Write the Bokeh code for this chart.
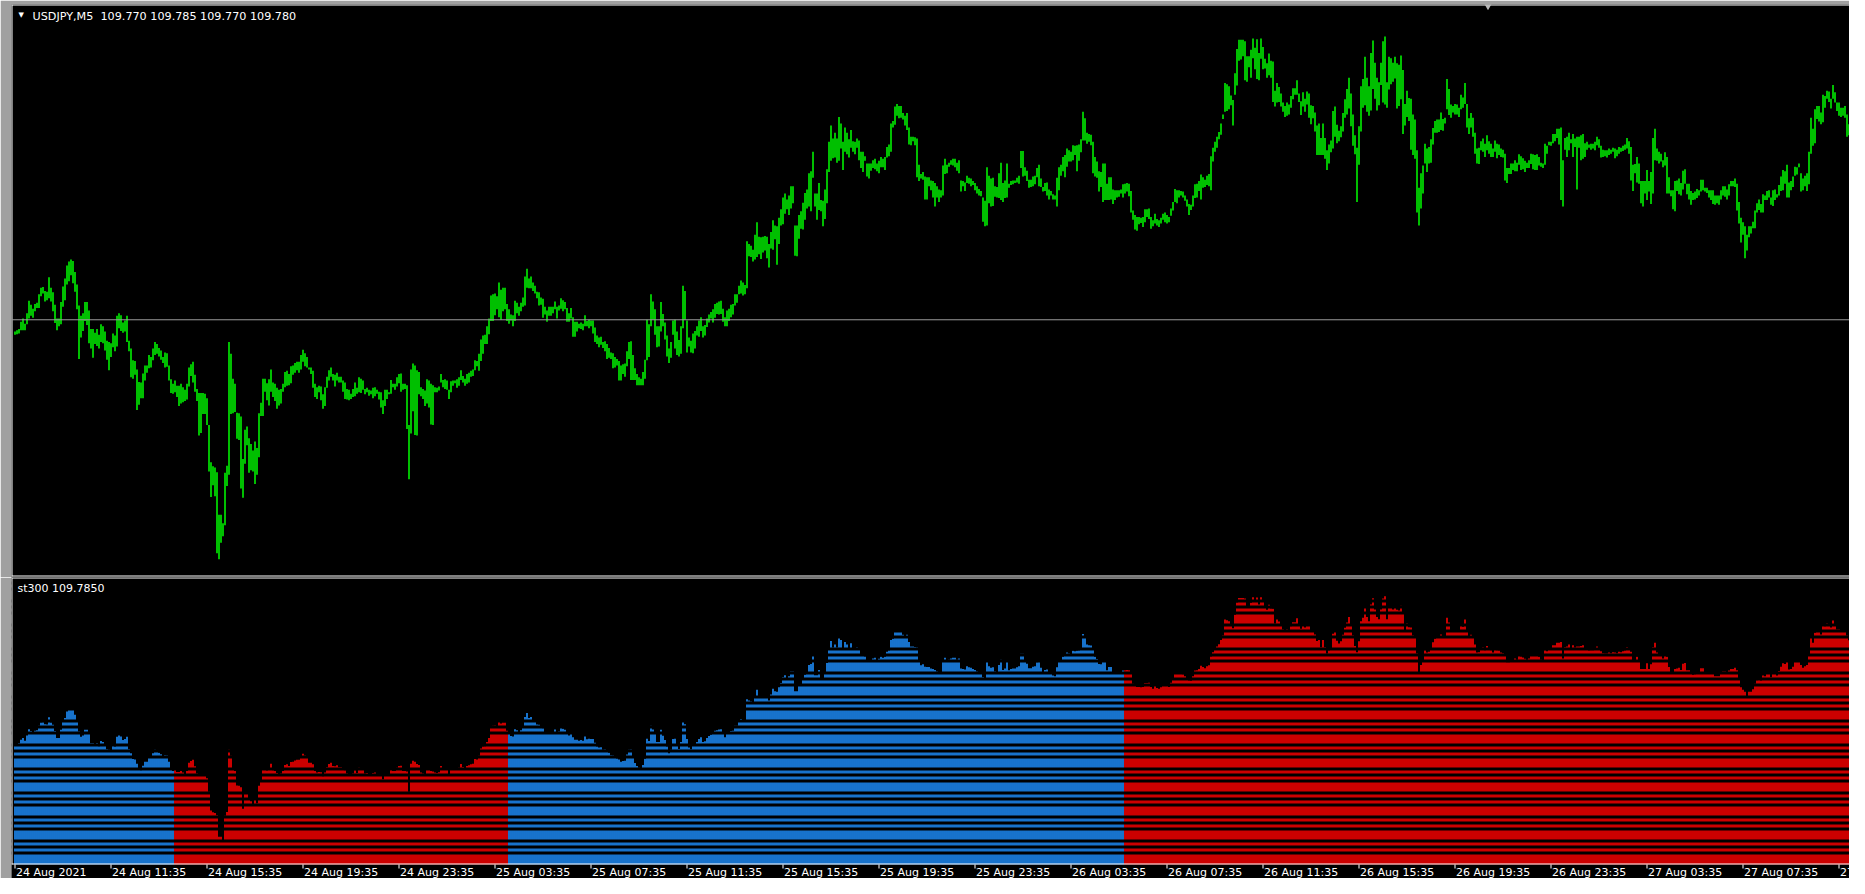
from bokeh.plotting import figure
from bokeh.layouts import column
from bokeh.models import Range1d, Label, Span, ColumnDataSource
from bokeh.core.properties import value
from bokeh.embed import file_html
from bokeh.resources import INLINE

# ---------------- data ----------------
symbol = "USDJPY,M5"
last_ohlc = ["109.770", "109.785", "109.770", "109.780"]
indicator_name = "st300"
indicator_last = "109.7850"
bid_line = 109.912

tick_every = 48  # bars between time labels (4 hours of M5)
tick_labels = ["24 Aug 2021", "24 Aug 11:35", "24 Aug 15:35", "24 Aug 19:35", "24 Aug 23:35",
               "25 Aug 03:35", "25 Aug 07:35", "25 Aug 11:35", "25 Aug 15:35", "25 Aug 19:35",
               "25 Aug 23:35", "26 Aug 03:35", "26 Aug 07:35", "26 Aug 11:35", "26 Aug 15:35",
               "26 Aug 19:35", "26 Aug 23:35", "27 Aug 03:35", "27 Aug 07:35", "27 Aug 11:35"]

high = [
109.894, 109.896, 109.898, 109.909, 109.914, 109.906, 109.922, 109.941, 109.935, 109.929,
109.936, 109.938, 109.951, 109.961, 109.962, 109.956, 109.955, 109.977, 109.961, 109.954,
109.935, 109.914, 109.914, 109.939, 109.963, 109.975, 109.995, 110.001, 110.004, 110.002,
109.985, 109.966, 109.934, 109.918, 109.922, 109.939, 109.939, 109.926, 109.898, 109.898,
109.892, 109.898, 109.889, 109.905, 109.902, 109.894, 109.880, 109.878, 109.876, 109.891,
109.888, 109.918, 109.922, 109.919, 109.908, 109.911, 109.918, 109.880, 109.868, 109.850,
109.849, 109.836, 109.817, 109.816, 109.830, 109.842, 109.842, 109.858, 109.855, 109.868,
109.878, 109.875, 109.869, 109.865, 109.855, 109.862, 109.861, 109.842, 109.821, 109.814,
109.819, 109.811, 109.811, 109.814, 109.809, 109.805, 109.814, 109.839, 109.844, 109.848,
109.828, 109.806, 109.800, 109.800, 109.800, 109.799, 109.792, 109.751, 109.694, 109.688,
109.686, 109.679, 109.614, 109.614, 109.601, 109.678, 109.689, 109.878, 109.860, 109.822,
109.814, 109.770, 109.769, 109.764, 109.699, 109.744, 109.749, 109.731, 109.722, 109.712,
109.726, 109.716, 109.769, 109.785, 109.822, 109.822, 109.815, 109.821, 109.836, 109.816,
109.814, 109.808, 109.805, 109.806, 109.814, 109.832, 109.834, 109.829, 109.841, 109.842,
109.846, 109.848, 109.848, 109.858, 109.866, 109.861, 109.855, 109.839, 109.839, 109.834,
109.814, 109.809, 109.811, 109.810, 109.798, 109.809, 109.825, 109.835, 109.839, 109.829,
109.828, 109.831, 109.825, 109.825, 109.819, 109.816, 109.806, 109.805, 109.799, 109.806,
109.816, 109.808, 109.824, 109.822, 109.819, 109.806, 109.808, 109.805, 109.804,
109.808, 109.809, 109.805, 109.802, 109.801, 109.789, 109.805, 109.805, 109.801, 109.820,
109.814, 109.814, 109.824, 109.829, 109.830, 109.814, 109.814, 109.812, 109.751, 109.836,
109.845, 109.842, 109.835, 109.832, 109.809, 109.806, 109.804, 109.821, 109.819, 109.814,
109.812, 109.809, 109.808, 109.810, 109.829, 109.820, 109.821, 109.819, 109.805, 109.818,
109.819, 109.819, 109.821, 109.824, 109.835, 109.826, 109.822, 109.829, 109.831, 109.834,
109.836, 109.850, 109.849, 109.860, 109.882, 109.888, 109.889, 109.902, 109.914, 109.949,
109.951, 109.952, 109.948, 109.969, 109.958, 109.961, 109.961, 109.936, 109.928, 109.920,
109.919, 109.941, 109.938, 109.932, 109.938, 109.946, 109.978, 109.990, 109.975, 109.978,
109.969, 109.964, 109.955, 109.954, 109.946, 109.944, 109.932, 109.926, 109.932, 109.932,
109.932, 109.940, 109.932, 109.934, 109.945, 109.942, 109.939, 109.930, 109.922, 109.930,
109.916, 109.909, 109.909, 109.906, 109.908, 109.906, 109.919, 109.910, 109.912, 109.911,
109.911, 109.900, 109.888, 109.885, 109.886, 109.878, 109.879, 109.875, 109.869, 109.862,
109.861, 109.855, 109.852, 109.849, 109.842, 109.844, 109.845, 109.864, 109.878, 109.879, 109.858, 109.838,
109.829, 109.824, 109.822, 109.832, 109.851, 109.912, 109.905, 109.951, 109.940, 109.928,
109.902, 109.902, 109.939, 109.921, 109.908, 109.888, 109.868, 109.878, 109.911, 109.912,
109.894, 109.881, 109.902, 109.964, 109.956, 109.911, 109.885, 109.880, 109.891, 109.895,
109.902, 109.911, 109.916, 109.902, 109.904, 109.914, 109.920, 109.924, 109.928, 109.936,
109.938, 109.940, 109.941, 109.929, 109.916, 109.926, 109.929, 109.935, 109.936, 109.951,
109.951, 109.964, 109.972, 109.969, 109.965, 110.032, 110.028, 110.025, 110.019, 110.042,
110.061, 110.039, 110.038, 110.039, 110.040, 110.039, 110.028, 110.046, 110.064, 110.056,
110.055, 110.068, 110.081, 110.099, 110.105, 110.096, 110.102, 110.116, 110.116, 110.056,
110.056, 110.072, 110.078, 110.091, 110.106, 110.111, 110.136, 110.139, 110.169, 110.105,
110.105, 110.121, 110.095, 110.094, 110.111, 110.142, 110.184, 110.209, 110.189, 110.198,
110.189, 110.222, 110.212, 110.184, 110.206, 110.198, 110.188, 110.202, 110.185, 110.184,
110.189, 110.186, 110.169, 110.169, 110.162, 110.151, 110.151, 110.151, 110.156, 110.158,
110.151, 110.155, 110.161, 110.158, 110.161, 110.176, 110.180, 110.212, 110.216, 110.238,
110.242, 110.239, 110.239, 110.228, 110.224, 110.228, 110.206, 110.192, 110.192, 110.191,
110.189, 110.149, 110.135, 110.138, 110.131, 110.130, 110.130, 110.125, 110.124, 110.121,
110.116, 110.111, 110.110, 110.148, 110.158, 110.149, 110.152, 110.156, 110.158, 110.158,
110.152, 110.156, 110.125, 110.124, 110.122, 110.132, 110.129, 110.128, 110.124,
110.121, 110.116, 110.112, 110.109, 110.099, 110.094, 110.145, 110.132, 110.128, 110.129,
110.116, 110.115, 110.136, 110.152, 110.121, 110.125, 110.151, 110.120, 110.124, 110.125,
110.125, 110.129, 110.132, 110.170, 110.170, 110.145, 110.140, 110.126, 110.126, 110.131,
110.132, 110.144, 110.149, 110.128, 110.115, 110.121, 110.122, 110.111, 110.109, 110.104,
110.102, 110.129, 110.145, 110.149, 110.161, 110.164, 110.174, 110.171, 110.169, 110.179,
110.178, 110.179, 110.180, 110.188, 110.230, 110.220, 110.198, 110.196, 110.195, 110.184,
110.161, 110.154, 110.139, 110.138, 110.151, 110.151, 110.120, 110.130, 110.130, 110.111,
110.110, 110.110, 110.110, 110.111, 110.119, 110.120, 110.121, 110.120, 110.109, 110.079,
110.072, 110.069, 110.069, 110.068, 110.069, 110.081, 110.081, 110.082, 110.069, 110.064,
110.074, 110.066, 110.064, 110.068, 110.074, 110.076, 110.072, 110.069, 110.082, 110.092,
110.112, 110.110, 110.110, 110.109, 110.108, 110.102, 110.096, 110.089, 110.088, 110.102,
110.119, 110.120, 110.124, 110.134, 110.130, 110.126, 110.132, 110.135, 110.162, 110.175,
110.184, 110.192, 110.199, 110.212, 110.226, 110.274, 110.272, 110.269, 110.255, 110.248,
110.289, 110.326, 110.340, 110.340, 110.340, 110.338, 110.315, 110.315, 110.325, 110.342, 110.328,
110.341, 110.320, 110.342, 110.329, 110.311, 110.304, 110.319, 110.308, 110.307, 110.262,
110.274, 110.268, 110.258, 110.244, 110.239, 110.244, 110.241, 110.254, 110.266, 110.266,
110.278, 110.258, 110.246, 110.260, 110.250, 110.261, 110.258, 110.240, 110.239, 110.229,
110.209, 110.212, 110.190, 110.212, 110.190, 110.171, 110.180, 110.186, 110.231, 110.238,
110.210, 110.201, 110.208, 110.228, 110.249, 110.265, 110.282, 110.258, 110.226, 110.194,
110.175, 110.208, 110.269, 110.280, 110.314, 110.282, 110.269, 110.320, 110.339, 110.305,
110.282, 110.275, 110.305, 110.338, 110.345, 110.275, 110.314, 110.312, 110.305, 110.314,
110.304, 110.302, 110.316, 110.294, 110.242, 110.262, 110.251, 110.250, 110.226, 110.218,
110.171, 110.114, 110.136, 110.148, 110.181, 110.174, 110.176, 110.188, 110.205, 110.216,
110.218, 110.218, 110.229, 110.219, 110.221, 110.280, 110.265, 110.241, 110.239, 110.242,
110.241, 110.236, 110.256, 110.252, 110.274, 110.242, 110.220, 110.228, 110.221, 110.198,
110.174, 110.175, 110.185, 110.189, 110.181, 110.194, 110.185, 110.181, 110.174, 110.186,
110.181, 110.180, 110.174, 110.172, 110.166, 110.144, 110.144, 110.151, 110.151, 110.156,
110.152, 110.165, 110.162, 110.159, 110.155, 110.152, 110.156, 110.166, 110.165, 110.164,
110.165, 110.161, 110.152, 110.151, 110.181, 110.178, 110.184, 110.184, 110.196, 110.196,
110.204, 110.204, 110.206, 110.156, 110.190, 110.192, 110.198, 110.188, 110.196, 110.189,
110.192, 110.192, 110.194, 110.196, 110.182, 110.184, 110.180, 110.181, 110.181, 110.184,
110.192, 110.188, 110.178, 110.172, 110.171, 110.171, 110.174, 110.172, 110.175,
110.174, 110.172, 110.176, 110.175, 110.178, 110.180, 110.190, 110.185, 110.176, 110.149,
110.150, 110.161, 110.151, 110.124, 110.124, 110.124, 110.141, 110.124, 110.138, 110.190,
110.204, 110.174, 110.169, 110.166, 110.156, 110.168, 110.161, 110.130, 110.110, 110.110,
110.124, 110.125, 110.128, 110.121, 110.140, 110.142, 110.120, 110.120, 110.109, 110.106,
110.108, 110.112, 110.110, 110.126, 110.126, 110.114, 110.114, 110.110, 110.110, 110.110,
110.102, 110.102, 110.102, 110.110, 110.116, 110.116, 110.111, 110.119, 110.124, 110.124,
110.128, 110.120, 110.092, 110.068, 110.061, 110.055, 110.042, 110.055, 110.055, 110.062,
110.079, 110.090, 110.096, 110.089, 110.104, 110.102, 110.109, 110.110, 110.099, 110.110,
110.111, 110.104, 110.118, 110.131, 110.141, 110.139, 110.149, 110.122, 110.124, 110.131,
110.146, 110.145, 110.151, 110.136, 110.128, 110.132, 110.136, 110.169, 110.221, 110.204,
110.234, 110.239, 110.239, 110.229, 110.256, 110.254, 110.262, 110.261, 110.250, 110.271,
110.260, 110.244, 110.244, 110.236, 110.236, 110.239, 110.226, 110.211, 110.214, 110.209,
110.226, 110.224, 110.235, 110.248, 110.246,
]

low = [
109.889, 109.890, 109.891, 109.896, 109.896, 109.896, 109.905, 109.914, 109.918, 109.915,
109.925, 109.930, 109.930, 109.948, 109.952, 109.940, 109.942, 109.945, 109.940, 109.925,
109.907, 109.896, 109.902, 109.905, 109.932, 109.942, 109.966, 109.971, 109.980, 109.968,
109.955, 109.928, 109.852, 109.885, 109.895, 109.910, 109.904, 109.876, 109.868, 109.854,
109.875, 109.872, 109.868, 109.878, 109.876, 109.865, 109.851, 109.835, 109.855, 109.870,
109.864, 109.871, 109.899, 109.895, 109.892, 109.894, 109.878, 109.864, 109.824, 109.822,
109.828, 109.774, 109.782, 109.792, 109.792, 109.819, 109.831, 109.838, 109.839, 109.850,
109.858, 109.860, 109.856, 109.851, 109.846, 109.839, 109.840, 109.819, 109.800, 109.799,
109.801, 109.794, 109.780, 109.784, 109.786, 109.788, 109.790, 109.810, 109.826, 109.816,
109.802, 109.788, 109.735, 109.739, 109.768, 109.768, 109.751, 109.680, 109.641, 109.659,
109.642, 109.555, 109.546, 109.571, 109.581, 109.598, 109.658, 109.675, 109.768, 109.769,
109.771, 109.730, 109.728, 109.654, 109.640, 109.692, 109.720, 109.678, 109.682, 109.680,
109.661, 109.675, 109.702, 109.765, 109.765, 109.802, 109.789, 109.781, 109.802, 109.794,
109.788, 109.776, 109.781, 109.784, 109.802, 109.809, 109.811, 109.812, 109.815, 109.828,
109.831, 109.835, 109.831, 109.836, 109.848, 109.841, 109.839, 109.836, 109.829, 109.808,
109.794, 109.791, 109.801, 109.789, 109.776, 109.780, 109.808, 109.819, 109.825, 109.819,
109.810, 109.819, 109.816, 109.816, 109.802, 109.791, 109.790, 109.789, 109.791, 109.794,
109.795, 109.799, 109.801, 109.800, 109.805, 109.798, 109.801, 109.796, 109.798,
109.792, 109.795, 109.799, 109.790, 109.778, 109.768, 109.780, 109.791, 109.798, 109.799,
109.809, 109.805, 109.810, 109.815, 109.802, 109.805, 109.806, 109.745, 109.668, 109.738,
109.772, 109.736, 109.735, 109.798, 109.795, 109.791, 109.780, 109.784, 109.778, 109.752,
109.751, 109.801, 109.801, 109.804, 109.816, 109.809, 109.806, 109.805, 109.791, 109.801,
109.811, 109.815, 109.808, 109.811, 109.820, 109.816, 109.811, 109.814, 109.816, 109.825,
109.826, 109.835, 109.841, 109.834, 109.849, 109.860, 109.875, 109.875, 109.890, 109.910,
109.910, 109.919, 109.928, 109.916, 109.912, 109.925, 109.928, 109.910, 109.906, 109.911,
109.902, 109.910, 109.922, 109.918, 109.925, 109.932, 109.934, 109.961, 109.960, 109.960,
109.956, 109.952, 109.945, 109.934, 109.935, 109.915, 109.920, 109.909, 109.918, 109.918,
109.922, 109.928, 109.914, 109.926, 109.929, 109.925, 109.928, 109.909, 109.909, 109.914,
109.886, 109.886, 109.894, 109.899, 109.898, 109.896, 109.902, 109.902, 109.899, 109.902,
109.891, 109.878, 109.875, 109.870, 109.874, 109.869, 109.864, 109.852, 109.854, 109.852,
109.838, 109.839, 109.842, 109.819, 109.819, 109.829, 109.825, 109.841, 109.852, 109.820, 109.820, 109.820,
109.812, 109.812, 109.812, 109.812, 109.822, 109.850, 109.855, 109.902, 109.912, 109.889,
109.870, 109.871, 109.894, 109.902, 109.882, 109.856, 109.846, 109.854, 109.889, 109.868,
109.858, 109.856, 109.860, 109.899, 109.912, 109.862, 109.871, 109.862, 109.861, 109.868,
109.888, 109.886, 109.895, 109.885, 109.888, 109.901, 109.908, 109.914, 109.908, 109.915,
109.921, 109.920, 109.921, 109.909, 109.902, 109.902, 109.910, 109.916, 109.920, 109.934,
109.938, 109.951, 109.952, 109.949, 109.951, 109.960, 110.009, 110.008, 110.001, 110.004,
110.008, 110.012, 110.005, 110.015, 110.018, 110.006, 109.992, 110.021, 110.019, 110.035,
109.996, 110.028, 110.056, 110.058, 110.074, 110.081, 110.072, 110.082, 110.090, 110.010,
110.009, 110.036, 110.051, 110.050, 110.065, 110.082, 110.085, 110.078, 110.129, 110.085,
110.065, 110.080, 110.078, 110.055, 110.066, 110.090, 110.138, 110.155, 110.159, 110.160,
110.152, 110.155, 110.174, 110.141, 110.169, 110.165, 110.160, 110.175, 110.169, 110.165,
110.175, 110.156, 110.144, 110.138, 110.155, 110.131, 110.128, 110.140, 110.144, 110.142,
110.139, 110.136, 110.145, 110.145, 110.141, 110.160, 110.162, 110.169, 110.206, 110.210,
110.224, 110.220, 110.221, 110.218, 110.209, 110.202, 110.180, 110.179, 110.185, 110.179,
110.130, 110.124, 110.128, 110.126, 110.096, 110.096, 110.116, 110.110, 110.099, 110.085,
110.099, 110.092, 110.099, 110.102, 110.135, 110.136, 110.146, 110.149, 110.148, 110.145,
110.140, 110.136, 110.108, 110.116, 110.109, 110.121, 110.120, 110.116, 110.118,
110.110, 110.105, 110.102, 110.101, 110.062, 110.055, 110.056, 110.090, 110.085, 110.086,
110.100, 110.099, 110.098, 110.095, 110.092, 110.098, 110.099, 110.114, 110.118, 110.119,
110.121, 110.122, 110.120, 110.144, 110.131, 110.132, 110.124, 110.114, 110.115, 110.116,
110.119, 110.130, 110.116, 110.115, 110.108, 110.109, 110.102, 110.096, 110.102, 110.096,
110.096, 110.085, 110.110, 110.132, 110.139, 110.130, 110.146, 110.154, 110.154, 110.156,
110.164, 110.139, 110.155, 110.168, 110.186, 110.186, 110.181, 110.184, 110.179, 110.136,
110.131, 110.129, 110.108, 110.115, 110.092, 110.095, 110.095, 110.095, 110.096, 110.089,
110.095, 110.099, 110.100, 110.105, 110.099, 110.105, 110.108, 110.101, 110.076, 110.065,
110.050, 110.048, 110.058, 110.060, 110.054, 110.061, 110.069, 110.066, 110.051, 110.055,
110.059, 110.056, 110.054, 110.059, 110.065, 110.061, 110.059, 110.061, 110.071, 110.079,
110.092, 110.090, 110.099, 110.102, 110.099, 110.094, 110.085, 110.072, 110.080, 110.085,
110.098, 110.099, 110.109, 110.096, 110.114, 110.115, 110.118, 110.116, 110.110, 110.154,
110.169, 110.175, 110.188, 110.195, 110.219, 110.230, 110.231, 110.234, 110.240, 110.209,
110.256, 110.270, 110.308, 110.310, 110.315, 110.278, 110.276, 110.298, 110.282, 110.312, 110.295,
110.280, 110.278, 110.311, 110.295, 110.296, 110.282, 110.286, 110.282, 110.245, 110.238,
110.244, 110.245, 110.238, 110.230, 110.222, 110.224, 110.226, 110.236, 110.249, 110.256,
110.256, 110.245, 110.225, 110.238, 110.230, 110.241, 110.221, 110.211, 110.220, 110.200,
110.164, 110.164, 110.164, 110.164, 110.158, 110.141, 110.151, 110.168, 110.174, 110.192,
110.182, 110.185, 110.191, 110.200, 110.221, 110.226, 110.235, 110.208, 110.178, 110.165,
110.092, 110.149, 110.200, 110.236, 110.240, 110.230, 110.224, 110.232, 110.265, 110.250,
110.232, 110.240, 110.271, 110.244, 110.241, 110.236, 110.264, 110.272, 110.276, 110.281,
110.235, 110.239, 110.249, 110.196, 110.209, 110.222, 110.216, 110.172, 110.164, 110.158,
110.076, 110.056, 110.082, 110.105, 110.151, 110.138, 110.151, 110.152, 110.180, 110.198,
110.198, 110.199, 110.202, 110.201, 110.212, 110.234, 110.225, 110.221, 110.229, 110.226,
110.226, 110.222, 110.234, 110.236, 110.242, 110.206, 110.196, 110.206, 110.192, 110.166,
110.151, 110.150, 110.171, 110.169, 110.161, 110.171, 110.166, 110.161, 110.161, 110.169,
110.159, 110.164, 110.161, 110.160, 110.125, 110.121, 110.135, 110.135, 110.141, 110.139,
110.139, 110.149, 110.141, 110.142, 110.138, 110.144, 110.144, 110.150, 110.142, 110.141,
110.141, 110.148, 110.146, 110.144, 110.149, 110.166, 110.179, 110.178, 110.182, 110.185,
110.190, 110.180, 110.095, 110.085, 110.172, 110.161, 110.171, 110.182, 110.161, 110.176,
110.111, 110.175, 110.156, 110.158, 110.161, 110.172, 110.175, 110.172, 110.174, 110.171,
110.179, 110.175, 110.160, 110.161, 110.162, 110.160, 110.164, 110.166, 110.169,
110.159, 110.162, 110.166, 110.169, 110.170, 110.172, 110.174, 110.166, 110.125, 110.109,
110.136, 110.122, 110.120, 110.090, 110.085, 110.105, 110.095, 110.108, 110.089, 110.105,
110.156, 110.155, 110.151, 110.154, 110.145, 110.148, 110.105, 110.105, 110.101, 110.081,
110.078, 110.109, 110.104, 110.102, 110.111, 110.120, 110.104, 110.096, 110.088, 110.095,
110.096, 110.098, 110.102, 110.108, 110.110, 110.108, 110.106, 110.099, 110.095, 110.089,
110.088, 110.090, 110.088, 110.096, 110.102, 110.100, 110.096, 110.102, 110.116, 110.116,
110.115, 110.079, 110.059, 110.030, 110.042, 110.006, 110.018, 110.038, 110.044, 110.052,
110.052, 110.076, 110.080, 110.076, 110.076, 110.095, 110.095, 110.099, 110.088, 110.086,
110.095, 110.099, 110.102, 110.109, 110.110, 110.120, 110.099, 110.099, 110.110, 110.115,
110.132, 110.134, 110.145, 110.108, 110.110, 110.116, 110.109, 110.119, 110.166, 110.178,
110.182, 110.219, 110.215, 110.211, 110.214, 110.236, 110.250, 110.245, 110.235, 110.250,
110.244, 110.231, 110.224, 110.222, 110.224, 110.221, 110.192, 110.194, 110.194, 110.200,
110.196, 110.209, 110.219, 110.232, 110.232,
]

# st300 trend direction changes (bar index where each segment starts)
trend_starts = [0, 80, 247, 555]
trend_dirs = ["up", "down", "up", "down"]

# ---------------- styling / layout ----------------
GREEN = "#00ff00"
BLUE = "#1e90ff"
RED = "#ff0000"
GREY = "#a0a0a0"
FONT = "DejaVu Sans"

N = min(len(high), len(low))
idx = list(range(N))

FW = 1838                       # frame width (px); 2 px per bar
x0 = -1.75
x1 = x0 + FW / 2.0
xr = Range1d(x0, x1)

# upper panel: 573 frame rows, border rows at 0 and 571, last row black
U_ROWS, U_BORDER = 573, 572
U_TOP, U_BOTLINE = 110.394, 109.5195
uk = (U_TOP - U_BOTLINE) / U_BORDER
U_BOT = U_TOP - U_ROWS * uk

# lower panel: 287 rows of histogram area (border rows included) + 14 rows time axis
L_ROWS, L_AX = 287, 14
L_TOP, LY0 = 110.402, 109.5295
lk = (L_TOP - LY0) / L_ROWS
L_BOT = LY0 - L_AX * lk


def base_fig(rows, y0, y1, top):
    p = figure(frame_width=FW, frame_height=rows, x_range=xr, y_range=Range1d(y0, y1),
               output_backend="svg", toolbar_location=None,
               x_axis_location=None, y_axis_location=None,
               min_border_left=11, min_border_right=0,
               min_border_top=top, min_border_bottom=0,
               background_fill_color="black", border_fill_color=GREY,
               outline_line_color=None)
    p.grid.visible = False
    return p


def white_border(p, y_top, y_bottom_edge, k):
    # top row, bottom row and left column (1 px each)
    p.quad(left=[x0, x0, x0], right=[x1, x1, x0 + 0.5],
           top=[y_top, y_bottom_edge + k, y_top],
           bottom=[y_top - k, y_bottom_edge, y_bottom_edge],
           fill_color="white", line_color=None)


# ---- upper: price bars ----
p1 = base_fig(U_ROWS, U_BOT, U_TOP, 4)
p1.add_layout(Span(location=bid_line, dimension="width", line_color="#9a9a9a", line_width=1))
p1.vbar(x=idx, bottom=low[:N], top=high[:N], width=0.75, fill_color=GREEN, line_color=None)
white_border(p1, U_TOP, U_TOP - U_BORDER * uk, uk)
p1.scatter(x=[736.5], y=[U_TOP], marker="inverted_triangle", size=10,
           fill_color="#b8b8b8", line_color=None)
p1.add_layout(Label(x=7, y=U_ROWS - 6, x_units="screen", y_units="screen", text="\u25bc",
                    text_font=FONT, text_font_size="7px", text_color="white",
                    text_baseline="top"))
p1.add_layout(Label(x=21, y=U_ROWS - 5, x_units="screen", y_units="screen",
                    text=symbol + "\u00a0 " + " ".join(last_ohlc),
                    text_font=FONT, text_font_size="11.2px", text_color="white",
                    text_baseline="top"))

# ---- lower: st300 histogram ----
colors = []
for i in idx:
    d = trend_dirs[0]
    for s0, dd in zip(trend_starts, trend_dirs):
        if i >= s0:
            d = dd
    colors.append(BLUE if d == "up" else RED)

p2 = base_fig(L_ROWS + L_AX, L_BOT, L_TOP, 0)
src = ColumnDataSource(dict(x=idx, top=high[:N], color=colors))
p2.vbar(x="x", top="top", bottom=LY0, width=0.8, fill_color="color", line_color=None, source=src)

# dash-dot-dot histogram style: black gaps at fixed pixel offsets above the bottom border
gb, gt = [], []
for k in range(L_ROWS // 24 + 2):
    for o in (10, 16, 22):
        off = o + 24 * k
        if off < L_ROWS:
            gb.append(LY0 + off * lk)
            gt.append(LY0 + (off + 3) * lk)
p2.quad(left=[x0] * len(gb), right=[x1] * len(gb), bottom=gb, top=gt,
        fill_color="black", line_color=None)
white_border(p2, L_TOP, LY0, lk)

# time axis drawn inside the bottom strip
tick_x = [k * tick_every for k in range(len(tick_labels))]
p2.quad(left=[t - 0.25 for t in tick_x], right=[t + 0.25 for t in tick_x],
        top=[LY0] * len(tick_x), bottom=[LY0 - 4 * lk] * len(tick_x),
        fill_color="white", line_color=None)
p2.text(x=[t + 0.5 for t in tick_x], y=[LY0 - 1 * lk] * len(tick_x), text=tick_labels,
        text_font=value(FONT), text_font_size=value("11px"), text_color="white",
        text_align="left", text_baseline="top")

p2.add_layout(Label(x=6, y=L_ROWS + L_AX - 4, x_units="screen", y_units="screen",
                    text=indicator_name + " " + indicator_last,
                    text_font=FONT, text_font_size="11px", text_color="white",
                    text_baseline="top"))

layout = column(p1, p2, spacing=0)
open("out.html", "w").write(file_html(layout, INLINE))
